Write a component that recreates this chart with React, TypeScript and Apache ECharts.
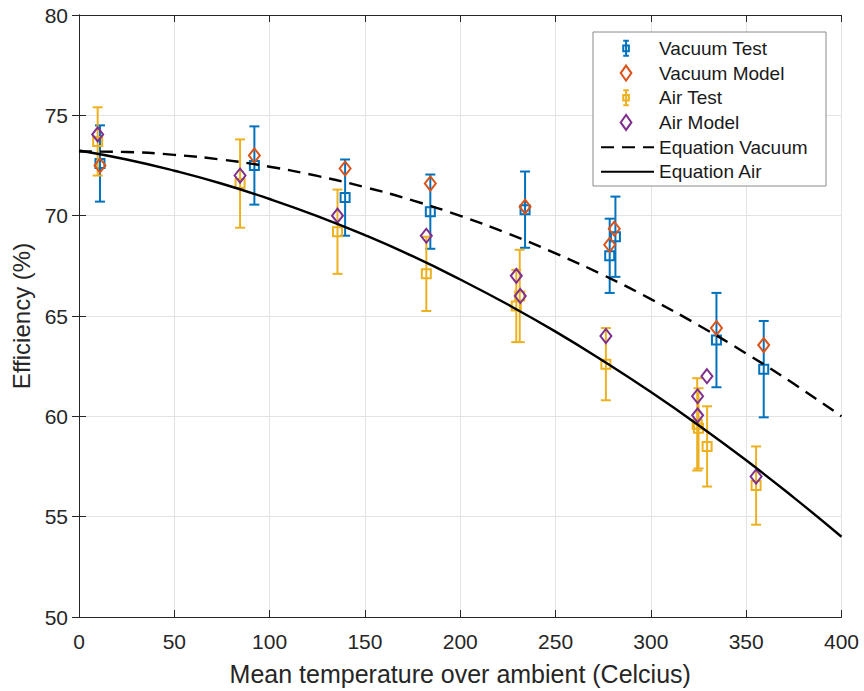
import React, { useEffect, useRef } from "react";
import * as echarts from "echarts";

// ---- Data ----
const vacTestX = [11, 92, 139.6, 184.3, 234, 278.4, 281.4, 334.4, 359.2];
const vacTestY = [72.6, 72.5, 70.9, 70.2, 70.3, 68.0, 68.95, 63.8, 62.35];
const vacTestErr = [1.9, 1.95, 1.9, 1.85, 1.9, 1.85, 2.0, 2.35, 2.4];

const vacModelX = [11, 92, 139.6, 184.3, 234, 278.4, 280.8, 334.4, 359.2];
const vacModelY = [72.5, 73.0, 72.35, 71.6, 70.45, 68.55, 69.35, 64.4, 63.55];

const airTestX = [9.8, 84.5, 135.6, 182.2, 229.4, 231.2, 276.4, 324.3, 325, 329.5, 355.2];
const airTestY = [73.7, 71.6, 69.2, 67.1, 65.5, 66.0, 62.6, 59.6, 59.4, 58.5, 56.55];
const airTestErr = [1.7, 2.2, 2.1, 1.85, 1.8, 2.3, 1.8, 2.3, 2.0, 2.0, 1.95];

const airModelX = [9.8, 84.5, 135.6, 182.2, 229.4, 231.5, 276.4, 324.5, 324.5, 329.4, 355.2];
const airModelY = [74.05, 72.0, 70.0, 69.0, 67.0, 66.0, 64.0, 61.0, 60.05, 62.0, 57.0];

const eqX = [0, 25, 50, 75, 100, 125, 150, 175, 200, 225, 250, 275, 300, 325, 350, 375, 400];
const eqVacuum = [73.2, 73.17, 73.03, 72.79, 72.44, 71.98, 71.42, 70.76, 69.99, 69.11, 68.12, 67.04, 65.84, 64.54, 63.13, 61.62, 60.0];
const eqAir = [73.25, 72.8, 72.24, 71.59, 70.83, 69.98, 69.03, 67.98, 66.82, 65.57, 64.22, 62.76, 61.21, 59.56, 57.81, 55.95, 54.0];

const xTicks = { min: 0, max: 400, interval: 50 };
const yTicks = { min: 50, max: 80, interval: 5 };

const BLUE = "#0072BD";
const ORANGE = "#D95319";
const YELLOW = "#EDB120";
const PURPLE = "#7E2F8E";
const AXIS = "#262626";
const FONT = '"Liberation Sans", Arial, Helvetica, sans-serif';

const ERR_ICON = "path://M2,0H8M5,0V16M2,16H8M2,5H8V11H2Z";
const DIAMOND_ICON = "path://M5,0L10,7L5,14L0,7Z";

function errorBarSeries(name: string, xs: number[], ys: number[], es: number[], color: string) {
  return {
    type: "custom",
    name,
    xAxisIndex: 0,
    yAxisIndex: 0,
    itemStyle: { color },
    encode: { x: 0, y: 1 },
    data: xs.map((x, i) => [x, ys[i], es[i]]),
    renderItem: (params: any, api: any) => {
      const x = api.value(0);
      const y = api.value(1);
      const e = api.value(2);
      const p = api.coord([x, y]);
      const t = api.coord([x, y + e]);
      const b = api.coord([x, y - e]);
      const cw = 5;
      const s = 4.5;
      const style = { stroke: color, lineWidth: 2, fill: "none" };
      return {
        type: "group",
        children: [
          { type: "line", shape: { x1: p[0], y1: t[1], x2: p[0], y2: b[1] }, style },
          { type: "line", shape: { x1: p[0] - cw, y1: t[1], x2: p[0] + cw, y2: t[1] }, style },
          { type: "line", shape: { x1: p[0] - cw, y1: b[1], x2: p[0] + cw, y2: b[1] }, style },
          { type: "rect", shape: { x: p[0] - s, y: p[1] - s, width: 2 * s, height: 2 * s }, style },
        ],
      };
    },
  };
}

function modelSeries(name: string, xs: number[], ys: number[], color: string) {
  return {
    type: "scatter",
    name,
    symbol: "diamond",
    symbolSize: [11, 14],
    itemStyle: { color: "rgba(0,0,0,0)", borderColor: color, borderWidth: 2, opacity: 1 },
    data: xs.map((x, i) => [x, ys[i]]),
  };
}

const markerLegendItem = (name: string, icon: string, color: string) => ({
  name,
  icon,
  itemStyle: { color: "rgba(0,0,0,0)", borderColor: color, borderWidth: 2 },
});

export default function App() {
  const ref = useRef<HTMLDivElement>(null);
  useEffect(() => {
    if (!ref.current) return;
    const chart = echarts.init(ref.current, undefined, { renderer: "svg" });
    const axisCommon = {
      axisLine: { show: true, lineStyle: { color: AXIS, width: 1 } },
      axisTick: { show: true, inside: true, length: 7, lineStyle: { color: AXIS } },
    };
    chart.setOption({
      animation: false,
      backgroundColor: "#ffffff",
      textStyle: { fontFamily: FONT },
      grid: { left: 79, right: 22.5, top: 15, bottom: 74 },
      xAxis: [
        {
          type: "value",
          ...xTicks,
          position: "bottom",
          ...axisCommon,
          axisLabel: { color: AXIS, fontSize: 21, margin: 14, fontFamily: FONT },
          splitLine: { show: true, lineStyle: { color: "#e3e3e3", width: 1 } },
          name: "Mean temperature over ambient (Celcius)",
          nameLocation: "middle",
          nameGap: 44,
          nameTextStyle: { color: AXIS, fontSize: 25, fontFamily: FONT },
        },
        {
          type: "value",
          ...xTicks,
          position: "top",
          ...axisCommon,
          axisLabel: { show: false },
          splitLine: { show: false },
        },
      ],
      yAxis: [
        {
          type: "value",
          ...yTicks,
          position: "left",
          ...axisCommon,
          axisLabel: { color: AXIS, fontSize: 21, margin: 11, fontFamily: FONT },
          splitLine: { show: true, lineStyle: { color: "#e3e3e3", width: 1 } },
          name: "Efficiency (%)",
          nameLocation: "middle",
          nameGap: 35,
          nameTextStyle: { color: AXIS, fontSize: 24, fontFamily: FONT },
        },
        {
          type: "value",
          ...yTicks,
          position: "right",
          ...axisCommon,
          axisLabel: { show: false },
          splitLine: { show: false },
        },
      ],
      graphic: [
        {
          type: "rect",
          z: 10,
          shape: { x: 593, y: 32, width: 233, height: 154 },
          style: { fill: "#ffffff", stroke: "#8a8a8a", lineWidth: 1 },
        },
      ],
      legend: [
        {
          orient: "vertical",
          left: 619.7,
          top: 36,
          padding: 0,
          itemGap: 0,
          itemWidth: 56,
          itemHeight: 15,
          symbolKeepAspect: true,
          z: 20,
          textStyle: { color: "#1a1a1a", fontSize: 19, lineHeight: 24.7, fontFamily: FONT },
          data: [
            markerLegendItem("Vacuum Test", ERR_ICON, BLUE),
            markerLegendItem("Vacuum Model", DIAMOND_ICON, ORANGE),
            markerLegendItem("Air Test", ERR_ICON, YELLOW),
            markerLegendItem("Air Model", DIAMOND_ICON, PURPLE),
          ],
        },
        {
          orient: "vertical",
          left: 600,
          top: 134.8,
          padding: 0,
          itemGap: 0,
          itemWidth: 53,
          itemHeight: 15,
          z: 20,
          textStyle: { color: "#1a1a1a", fontSize: 19, lineHeight: 24.7, fontFamily: FONT },
          data: [
            { name: "Equation Vacuum", itemStyle: { opacity: 0 } },
            { name: "Equation Air", itemStyle: { opacity: 0 } },
          ],
        },
      ],
      series: [
        errorBarSeries("Vacuum Test", vacTestX, vacTestY, vacTestErr, BLUE),
        modelSeries("Vacuum Model", vacModelX, vacModelY, ORANGE),
        errorBarSeries("Air Test", airTestX, airTestY, airTestErr, YELLOW),
        modelSeries("Air Model", airModelX, airModelY, PURPLE),
        {
          type: "line",
          name: "Equation Vacuum",
          smooth: true,
          symbol: "none",
          itemStyle: { color: "#000000" },
          lineStyle: { color: "#000000", width: 2.4, type: [13, 8] },
          data: eqX.map((x, i) => [x, eqVacuum[i]]),
        },
        {
          type: "line",
          name: "Equation Air",
          smooth: true,
          symbol: "none",
          itemStyle: { color: "#000000" },
          lineStyle: { color: "#000000", width: 2.4, type: "solid" },
          data: eqX.map((x, i) => [x, eqAir[i]]),
        },
      ],
    });
    return () => chart.dispose();
  }, []);
  return (
    <div
      ref={ref}
      style={{ position: "absolute", left: 0, top: 0, width: 864, height: 691, background: "#fff" }}
    />
  );
}
